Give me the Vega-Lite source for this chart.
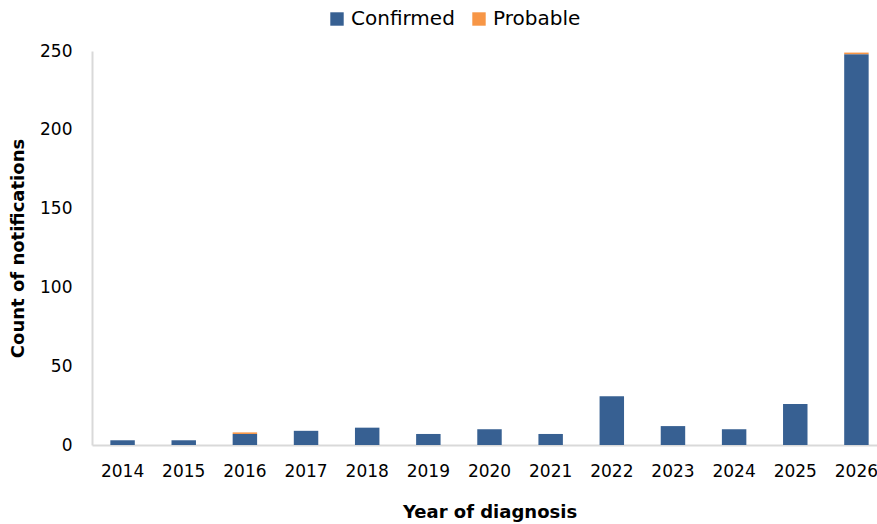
{
  "$schema": "https://vega.github.io/schema/vega-lite/v6.json",
  "width": 795,
  "height": 394,
  "autosize": {"type": "none"},
  "padding": {"left": 92, "top": 51, "right": 0, "bottom": 79},
  "background": "white",
  "config": {
    "view": {"stroke": null},
    "font": "DejaVu Sans"
  },
  "data": {
    "values": [
      {"year": "2014", "status": "Confirmed", "count": 3},
      {"year": "2015", "status": "Confirmed", "count": 3},
      {"year": "2016", "status": "Confirmed", "count": 7},
      {"year": "2016", "status": "Probable", "count": 1},
      {"year": "2017", "status": "Confirmed", "count": 9},
      {"year": "2018", "status": "Confirmed", "count": 11},
      {"year": "2019", "status": "Confirmed", "count": 7},
      {"year": "2020", "status": "Confirmed", "count": 10},
      {"year": "2021", "status": "Confirmed", "count": 7},
      {"year": "2022", "status": "Confirmed", "count": 31},
      {"year": "2023", "status": "Confirmed", "count": 12},
      {"year": "2024", "status": "Confirmed", "count": 10},
      {"year": "2025", "status": "Confirmed", "count": 26},
      {"year": "2026", "status": "Confirmed", "count": 248},
      {"year": "2026", "status": "Probable", "count": 1}
    ]
  },
  "mark": {"type": "bar"},
  "encoding": {
    "x": {
      "field": "year",
      "type": "ordinal",
      "scale": {"paddingInner": 0.6, "paddingOuter": 0.3},
      "axis": {
        "title": "Year of diagnosis",
        "titleFontSize": 18,
        "titleFontWeight": "bold",
        "titleColor": "#000000",
        "titlePadding": 24,
        "labelAngle": 0,
        "labelFontSize": 17,
        "labelColor": "#000000",
        "labelPadding": 18,
        "ticks": false,
        "domainColor": "#d9d9d9",
        "domainWidth": 2
      }
    },
    "y": {
      "field": "count",
      "type": "quantitative",
      "aggregate": "sum",
      "stack": "zero",
      "scale": {"domain": [0, 250], "nice": false},
      "axis": {
        "title": "Count of notifications",
        "titleFontSize": 18,
        "titleFontWeight": "bold",
        "titleColor": "#000000",
        "titlePadding": 12,
        "values": [0, 50, 100, 150, 200, 250],
        "labelFontSize": 17,
        "labelColor": "#000000",
        "labelPadding": 20,
        "ticks": false,
        "grid": false,
        "domainColor": "#d9d9d9",
        "domainWidth": 2
      }
    },
    "color": {
      "field": "status",
      "type": "nominal",
      "scale": {"domain": ["Confirmed", "Probable"], "range": ["#376092", "#f79646"]},
      "legend": {
        "title": null,
        "orient": "none",
        "direction": "horizontal",
        "legendX": 235,
        "legendY": -42,
        "symbolType": "square",
        "symbolSize": 180,
        "symbolStrokeWidth": 0,
        "labelFontSize": 20,
        "labelColor": "#000000",
        "columnPadding": 14,
        "symbolOffset": 0
      }
    },
    "order": {"field": "status", "sort": "ascending"}
  }
}
